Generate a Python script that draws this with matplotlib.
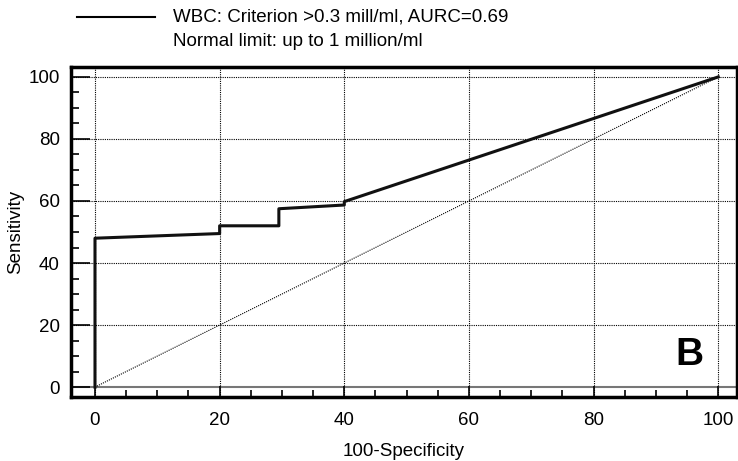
import matplotlib.pyplot as plt
from matplotlib.lines import Line2D
from matplotlib.ticker import MultipleLocator

plt.rcParams['font.family'] = ['Liberation Sans', 'DejaVu Sans']

# ROC curve points (100-Specificity, Sensitivity)
roc_x = [0, 0, 20, 20, 29.5, 29.5, 40, 40, 100]
roc_y = [0, 48, 49.5, 52, 52, 57.5, 58.7, 59.8, 100]
diag_x = [0, 100]
diag_y = [0, 100]
xticks = [0, 20, 40, 60, 80, 100]
yticks = [0, 20, 40, 60, 80, 100]
legend_lines = ['WBC: Criterion >0.3 mill/ml, AURC=0.69', 'Normal limit: up to 1 million/ml']


def main():
    fig = plt.figure(figsize=(7.38, 4.61), dpi=100)
    ax = fig.add_axes([0.0962, 0.1388, 0.9024, 0.7159])
    ax.set_xlim(-3.85, 103)
    ax.set_ylim(-3.2, 103.2)

    for v in xticks:
        ax.axvline(v, color='black', lw=0.8, ls=(0, (1, 1)), zorder=1)
    for v in yticks[1:]:
        ax.axhline(v, color='black', lw=0.8, ls=(0, (1, 1)), zorder=1)
    ax.axhline(0, color='#777777', lw=1.5, zorder=1)

    ax.plot(diag_x, diag_y, color='black', lw=0.8, ls=(0, (1, 1)), zorder=2)
    ax.plot(roc_x, roc_y, color='#111111', lw=2.2, zorder=3)

    ax.set_xticks(xticks)
    ax.set_yticks(yticks)
    ax.xaxis.set_minor_locator(MultipleLocator(5))
    ax.yaxis.set_minor_locator(MultipleLocator(5))
    ax.tick_params(which='both', direction='in', width=1.2, labelsize=13.5)
    ax.tick_params(axis='y', which='major', length=14, pad=8)
    ax.tick_params(axis='y', which='minor', length=6)
    ax.tick_params(axis='x', which='major', length=8, pad=11)
    ax.tick_params(axis='x', which='minor', length=5)
    for s in ax.spines.values():
        s.set_linewidth(2.5)

    ax.set_xlabel('100-Specificity', fontsize=13.5, labelpad=10)
    ax.set_ylabel('Sensitivity', fontsize=13.5, labelpad=3)

    ax.text(95.4, 10.5, 'B', fontsize=28, fontweight='bold', ha='center', va='center')

    # legend header drawn in figure coords
    fig.add_artist(Line2D([77 / 738, 155 / 738], [1 - 17 / 461, 1 - 17 / 461], color='black', lw=1.5))
    fig.text(173 / 738, 1 - 17 / 461, legend_lines[0], fontsize=13.5, va='center')
    fig.text(173 / 738, 1 - 41 / 461, legend_lines[1], fontsize=13.5, va='center')

    fig.savefig('out.png', dpi=100)


if __name__ == '__main__':
    main()
